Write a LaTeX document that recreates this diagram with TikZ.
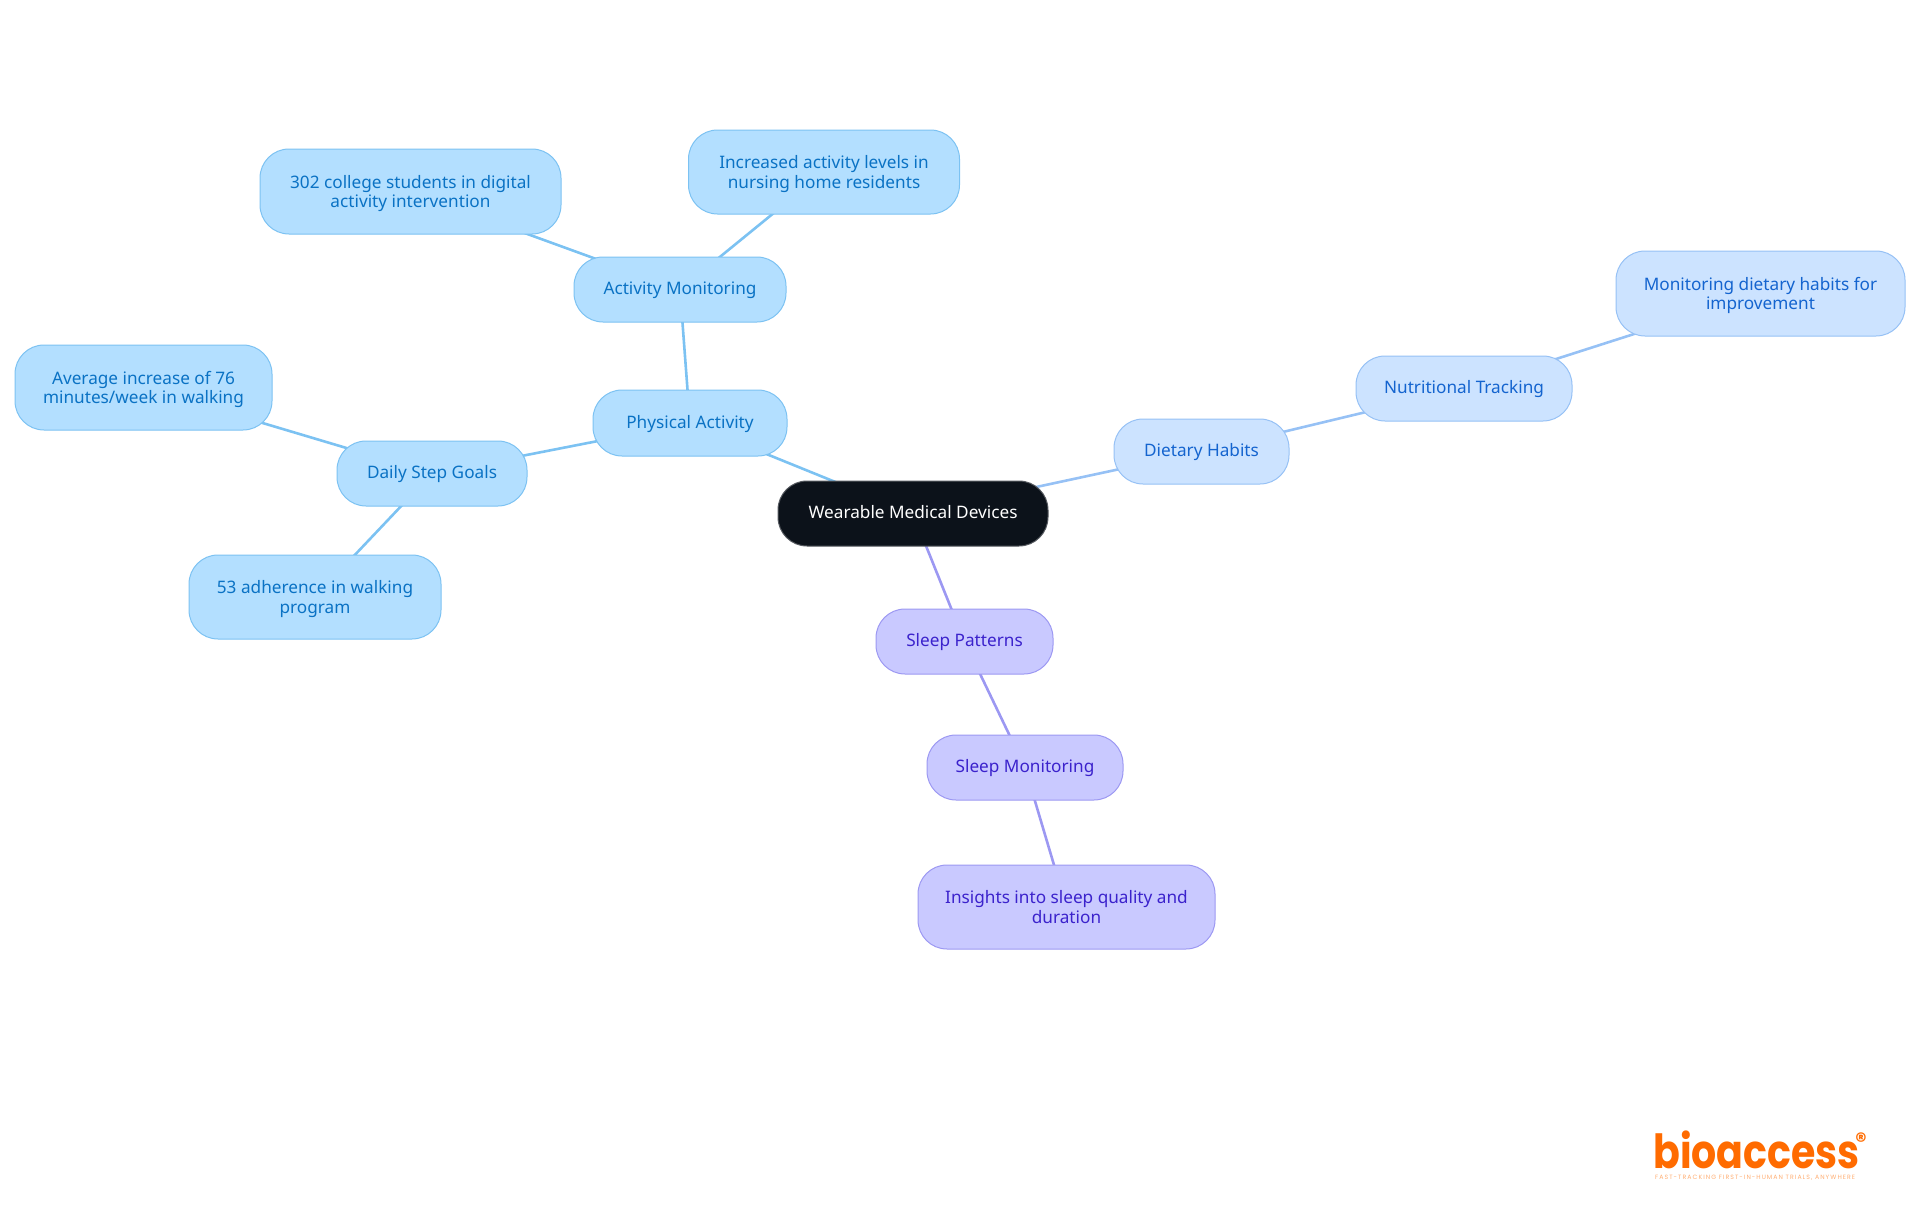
\documentclass[tikz,border=0pt]{standalone}
\usepackage{fontspec}
\setmainfont{Noto Sans}
\newfontfamily\logofont{Poppins}
\usetikzlibrary{backgrounds}
\definecolor{bluefill}{HTML}{B3DFFF}
\definecolor{bluedraw}{HTML}{7CC2F2}
\definecolor{bluetext}{HTML}{0A72C4}
\definecolor{skyfill}{HTML}{CCE3FF}
\definecolor{skydraw}{HTML}{96C1F5}
\definecolor{skytext}{HTML}{1464CF}
\definecolor{purpfill}{HTML}{C9C9FF}
\definecolor{purpdraw}{HTML}{9C98F2}
\definecolor{purptext}{HTML}{3B22CC}
\definecolor{rootfill}{HTML}{0C121A}
\definecolor{logoorange}{HTML}{FF6B00}
\newcommand{\onel}{\rule[-4.2pt]{0pt}{19pt}}
\newcommand{\twol}[1]{\rule[-3pt]{0pt}{19pt}\smash{#1}}
\tikzset{
  x=1pt,y=-1pt,
  mapnode/.style={rectangle,rounded corners=29pt,line width=1pt,align=center,inner sep=0pt,
     font=\fontsize{17.2}{19.3}\selectfont},
  rootnode/.style={mapnode,fill=rootfill,draw=rootfill!70!white,text=white,minimum width=270pt,minimum height=65pt},
  bluenode/.style={mapnode,fill=bluefill,draw=bluedraw,text=bluetext},
  skynode/.style={mapnode,fill=skyfill,draw=skydraw,text=skytext},
  purpnode/.style={mapnode,fill=purpfill,draw=purpdraw,text=purptext},
  sz/.style n args={2}{minimum width=#1pt,minimum height=#2pt},
  blueline/.style={draw=bluedraw,line width=2.6pt},
  skyline/.style={draw=skydraw,line width=2.6pt},
  purpline/.style={draw=purpdraw,line width=2.6pt},
}
\begin{document}
\begin{tikzpicture}
\useasboundingbox (0,0) rectangle (1920,1215);
\node[rootnode] (root) at (913,513.5) {\onel Wearable Medical Devices};
\node[bluenode,sz={194}{66}] (phys) at (690,423) {\onel Physical Activity};
\node[bluenode,sz={212}{65}] (act) at (680,289.5) {\onel Activity Monitoring};
\node[bluenode,sz={190}{65}] (step) at (432,473.5) {\onel Daily Step Goals};
\node[bluenode,sz={257}{85}] (avg) at (143.5,387.5) {\twol{Average increase of 76}\\\twol{minutes/week in walking}};
\node[bluenode,sz={252}{84}] (adh) at (315,597) {\twol{53 adherence in walking}\\\twol{program}};
\node[bluenode,sz={301}{85}] (col) at (410.5,191.5) {\twol{302 college students in digital}\\\twol{activity intervention}};
\node[bluenode,sz={271}{84}] (nur) at (824,172) {\twol{Increased activity levels in}\\\twol{nursing home residents}};
\node[skynode,sz={175}{65}] (diet) at (1201.5,451.5) {\onel Dietary Habits};
\node[skynode,sz={216}{65}] (nut) at (1464,388.5) {\onel Nutritional Tracking};
\node[skynode,sz={289}{85}] (mon) at (1760.5,293.5) {\twol{Monitoring dietary habits for}\\\twol{improvement}};
\node[purpnode,sz={177}{65}] (pat) at (964.5,641.5) {\onel Sleep Patterns};
\node[purpnode,sz={196}{65}] (smon) at (1025,767.5) {\onel Sleep Monitoring};
\node[purpnode,sz={297}{84}] (ins) at (1066.5,907) {\twol{Insights into sleep quality and}\\\twol{duration}};
\begin{pgfonlayer}{background}
\draw[blueline] (root.center) -- (phys.center);
\draw[blueline] (phys.center) -- (act.center);
\draw[blueline] (act.center) -- (col.center);
\draw[blueline] (act.center) -- (nur.center);
\draw[blueline] (phys.center) -- (step.center);
\draw[blueline] (step.center) -- (avg.center);
\draw[blueline] (step.center) -- (adh.center);
\draw[skyline] (root.center) -- (diet.center);
\draw[skyline] (diet.center) -- (nut.center);
\draw[skyline] (nut.center) -- (mon.center);
\draw[purpline] (root.center) -- (pat.center);
\draw[purpline] (pat.center) -- (smon.center);
\draw[purpline] (smon.center) -- (ins.center);
\end{pgfonlayer}
\node[inner sep=0pt,anchor=base west,text=logoorange,font=\logofont\bfseries\fontsize{47}{47}\selectfont] (logo) at (1653,1168.5) {\scalebox{.84}[1]{bioaccess}};
\node[inner sep=0pt,anchor=center,text=logoorange,font=\logofont\bfseries\fontsize{22}{22}\selectfont] (reg) at (1861,1141) {®};
\node[inner sep=0pt,anchor=base west,text=logoorange!55!white,font=\logofont\fontsize{6.2}{7}\addfontfeature{LetterSpace=17}\selectfont] (tag) at (1655,1179.5) {FAST-TRACKING FIRST-IN-HUMAN TRIALS, ANYWHERE};
\end{tikzpicture}
\end{document}
